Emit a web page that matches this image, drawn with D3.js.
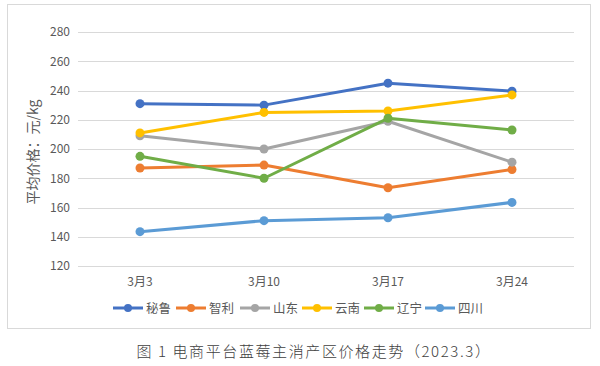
<!DOCTYPE html>
<html><head><meta charset="utf-8">
<script src="https://cdn.jsdelivr.net/npm/d3@7"></script>
<style>body{margin:0;background:#fff}svg{display:block}</style>
</head><body>
<script>
const categories = ["3月3", "3月10", "3月17", "3月24"];
const seriesNames = ["秘鲁", "智利", "山东", "云南", "辽宁", "四川"];
const peru     = [231, 230, 245, 239.5];
const chile    = [187, 189, 173.5, 186];
const shandong = [209, 200, 219, 191];
const yunnan   = [211, 225, 226, 237];
const liaoning = [195, 180, 221, 213];
const sichuan  = [143.5, 151, 153, 163.5];
const yTicks = [120, 140, 160, 180, 200, 220, 240, 260, 280];
const colors = ["#4472C4", "#ED7D31", "#A5A5A5", "#FFC000", "#70AD47", "#5B9BD5"];
const seriesValues = [peru, chile, shandong, yunnan, liaoning, sichuan];

const W = 600, H = 366;
const svg = d3.select("body").append("svg").attr("width", W).attr("height", H);
const font = "'Noto Sans CJK SC', 'Microsoft YaHei', sans-serif";

svg.append("rect").attr("x", 7.5).attr("y", 4.5).attr("width", 583).attr("height", 324)
  .attr("fill", "#fff").attr("stroke", "#d9d9d9").attr("stroke-width", 1);

const x = d3.scaleBand().domain(categories).range([78, 574]);
const y = d3.scaleLinear().domain([120, 280]).range([266, 32]);

const grid = svg.append("g");
grid.selectAll("line").data(yTicks).join("line")
  .attr("x1", 78).attr("x2", 574)
  .attr("y1", d => Math.round(y(d)) + 0.5).attr("y2", d => Math.round(y(d)) + 0.5)
  .attr("stroke", "#d9d9d9").attr("stroke-width", 1);

const yAxis = svg.append("g").attr("transform", "translate(78,0)")
  .call(d3.axisLeft(y).tickValues(yTicks).tickSize(0).tickPadding(8));
yAxis.select(".domain").remove();
yAxis.selectAll("text").attr("font-family", font).attr("font-size", 12).attr("fill", "#595959");

const xAxis = svg.append("g").attr("transform", "translate(0,266)")
  .call(d3.axisBottom(x).tickSize(0).tickPadding(11));
xAxis.select(".domain").remove();
xAxis.selectAll("text").attr("font-family", font).attr("font-size", 12).attr("fill", "#595959");

svg.append("text").attr("transform", "translate(38,152) rotate(-90)")
  .attr("text-anchor", "middle").attr("font-family", font).attr("font-size", 14)
  .attr("fill", "#595959").text("平均价格：元/kg");

const line = d3.line().x((d, i) => x(categories[i]) + x.bandwidth() / 2).y(d => y(d));
seriesValues.forEach((vals, si) => {
  const g = svg.append("g");
  g.append("path").datum(vals).attr("d", line).attr("fill", "none")
    .attr("stroke", colors[si]).attr("stroke-width", 3).attr("stroke-linejoin", "round").attr("stroke-linecap", "round");
  g.selectAll("circle").data(vals).join("circle")
    .attr("cx", (d, i) => x(categories[i]) + x.bandwidth() / 2).attr("cy", d => y(d))
    .attr("r", 4.5).attr("fill", colors[si]);
});

// legend
const legend = svg.append("g").attr("transform", "translate(113,308)");
const itemW = [63, 64, 62, 62, 61, 60];
let lx = 0;
seriesNames.forEach((n, i) => {
  const g = legend.append("g").attr("transform", `translate(${lx},0)`);
  g.append("line").attr("x1", 0).attr("x2", 30).attr("y1", 0).attr("y2", 0)
    .attr("stroke", colors[i]).attr("stroke-width", 3);
  g.append("circle").attr("cx", 15).attr("cy", 0).attr("r", 4).attr("fill", colors[i]);
  g.append("text").attr("x", 33).attr("y", 0).attr("dy", "0.36em")
    .attr("font-family", font).attr("font-size", 12.5).attr("fill", "#595959").text(n);
  lx += itemW[i];
});

svg.append("text").attr("x", 314).attr("y", 357).attr("text-anchor", "middle")
  .attr("font-family", font).attr("font-size", 15).attr("font-weight", 300).attr("letter-spacing", "1.6px")
  .attr("fill", "#404040").text("图 1 电商平台蓝莓主消产区价格走势（2023.3）");
</script>
</body></html>
